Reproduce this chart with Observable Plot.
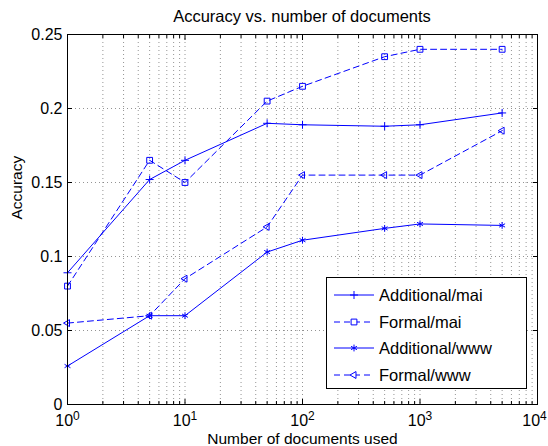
<!DOCTYPE html>
<html><head><meta charset="utf-8">
<script src="https://cdn.jsdelivr.net/npm/d3@7"></script>
<script src="https://cdn.jsdelivr.net/npm/@observablehq/plot@0.6"></script>
<style>
body{margin:0;background:#fff;font-family:"Liberation Sans",Arial,Helvetica,sans-serif;}
#wrap{position:relative;width:548px;height:446px;overflow:hidden;}
#title{position:absolute;left:67px;top:2px;width:470px;text-align:center;font-size:16.5px;line-height:28px;color:#000;}
#chart{position:absolute;left:0;top:28px;}
#legend{position:absolute;left:326px;top:277px;width:201px;height:112px;box-sizing:border-box;border:1px solid #000;background:#fff;}
.row{position:absolute;left:0;height:24px;width:199px;}
.row svg{position:absolute;left:6px;top:0;}
.row span{position:absolute;left:52px;top:2px;font-size:16.5px;line-height:20px;color:#000;white-space:nowrap;}
</style></head><body>
<div id="wrap"><div id="title"></div><div id="chart"></div><div id="legend"></div></div>
<script>
// ---- data ----
const docs = [1, 5, 10, 50, 100, 500, 1000, 5000];
const additionalMai = [0.089, 0.152, 0.165, 0.190, 0.189, 0.188, 0.189, 0.197];
const formalMai     = [0.080, 0.165, 0.150, 0.205, 0.215, 0.235, 0.240, 0.240];
const additionalWww = [0.026, 0.060, 0.060, 0.103, 0.111, 0.119, 0.122, 0.121];
const formalWww     = [0.055, 0.060, 0.085, 0.120, 0.155, 0.155, 0.155, 0.185];
const seriesNames = ["Additional/mai", "Formal/mai", "Additional/www", "Formal/www"];
const xTickValues = [1, 10, 100, 1000, 10000];
const xTickLabels = ["10^0", "10^1", "10^2", "10^3", "10^4"];
const yTickValues = [0, 0.05, 0.1, 0.15, 0.2, 0.25];
const yTickLabels = ["0", "0.05", "0.1", "0.15", "0.2", "0.25"];
const titleText = "Accuracy vs. number of documents";
const xLabel = "Number of documents used";
const yLabel = "Accuracy";
document.getElementById("title").textContent = titleText;

// ---- styles ----
const blue = "#0000ff";
const styles = [
  {symbol: "plus", r: 2.7, dash: null, rotate: 0, d3sym: d3.symbolPlus},
  {symbol: "square2", r: 3.7, dash: "6,4", rotate: 0, d3sym: d3.symbolSquare2},
  {symbol: "asterisk", r: 3.2, dash: null, rotate: 0, d3sym: d3.symbolAsterisk},
  {symbol: "triangle2", r: 3.3, dash: "6,4", rotate: -90, d3sym: d3.symbolTriangle2}
];
const seriesValues = [additionalMai, formalMai, additionalWww, formalWww];
const tables = seriesValues.map((vals, s) => docs.map((d, i) => ({docs: d, value: vals[i], series: seriesNames[s]})));

// grid values
const minorTicks = [];
for (let k = 0; k < 4; k++) for (let m = 2; m <= 9; m++) minorTicks.push(m * Math.pow(10, k));
const xGrid = minorTicks.concat([10, 100, 1000]);
const yGrid = yTickValues.slice(1, -1);

const marks = [
  Plot.ruleX(xGrid, {x: d => d, stroke: "#666", strokeOpacity: 0.7, strokeDasharray: "1,3", strokeWidth: 1}),
  Plot.ruleY(yGrid, {y: d => d, stroke: "#666", strokeOpacity: 0.7, strokeDasharray: "1,3", strokeWidth: 1}),
];
tables.forEach((t, s) => {
  const st = styles[s];
  marks.push(Plot.line(t, {x: "docs", y: "value", stroke: blue, strokeWidth: 1, strokeDasharray: st.dash}));
  marks.push(Plot.dot(t, {x: "docs", y: "value", symbol: st.symbol, r: st.r, stroke: blue, fill: "none", strokeWidth: 1, rotate: st.rotate}));
});
marks.push(
  Plot.frame({stroke: "#000", strokeWidth: 1}),
  Plot.axisX(xTickValues, {anchor: "bottom", tickSize: -5, tickPadding: 15, fontSize: 16, label: null, stroke: "#000",
    tickFormat: d => xTickLabels[xTickValues.indexOf(d)]}),
  Plot.axisX(minorTicks, {anchor: "bottom", tickSize: -3, label: null, tickFormat: () => ""}),
  Plot.axisX(xTickValues, {anchor: "top", tickSize: -5, label: null, tickFormat: () => ""}),
  Plot.axisX(minorTicks, {anchor: "top", tickSize: -3, label: null, tickFormat: () => ""}),
  Plot.axisY(yTickValues, {anchor: "left", tickSize: -5, tickPadding: 10, fontSize: 16, label: null,
    tickFormat: d => yTickLabels[yTickValues.indexOf(d)]}),
  Plot.axisY(yTickValues, {anchor: "right", tickSize: -5, label: null, tickFormat: () => ""}),
  Plot.text([xLabel], {frameAnchor: "bottom", lineAnchor: "middle", dy: 35, fontSize: 15.5, fill: "#000"}),
  Plot.text([yLabel], {frameAnchor: "left", lineAnchor: "middle", dx: -50, rotate: -90, fontSize: 15.5, fill: "#000"})
);

const svg = Plot.plot({
  width: 548, height: 418,
  marginTop: 6, marginBottom: 42, marginLeft: 67, marginRight: 11,
  style: {fontFamily: "'Liberation Sans', Arial, Helvetica, sans-serif", color: "#000", background: "#fff", overflow: "visible"},
  x: {type: "log", domain: [1, 10000]},
  y: {domain: [0, 0.25]},
  marks
});
document.getElementById("chart").appendChild(svg);

// superscript exponents
d3.select(svg).selectAll("text").each(function() {
  const s = this.textContent;
  const m = s.match(/^10\^(\d+)$/);
  if (m) {
    const t = d3.select(this);
    t.text(null);
    t.append("tspan").text("10");
    t.append("tspan").attr("dy", "-0.45em").attr("font-size", 12).text(m[1]);
    if (s === xTickLabels[xTickLabels.length - 1]) {
      const cur = +(t.attr("dx") || 0);
      t.attr("dx", cur - 3);
    }
  }
});

// legend
const legend = d3.select("#legend");
const rowCenters = [17, 44, 70, 97];
seriesNames.forEach((name, s) => {
  const st = styles[s];
  const row = legend.append("div").attr("class", "row").style("top", (rowCenters[s] - 12) + "px");
  const g = row.append("svg").attr("width", 44).attr("height", 24);
  g.append("line").attr("x1", 1).attr("x2", 41).attr("y1", 12).attr("y2", 12)
    .attr("stroke", blue).attr("stroke-width", 1).attr("stroke-dasharray", st.dash);
  g.append("path").attr("d", d3.symbol(st.d3sym, Math.PI * st.r * st.r)())
    .attr("transform", `translate(21,12) rotate(${st.rotate})`)
    .attr("fill", "#fff").attr("stroke", blue).attr("stroke-width", 1);
  row.append("span").text(name);
});
</script>
</body></html>
